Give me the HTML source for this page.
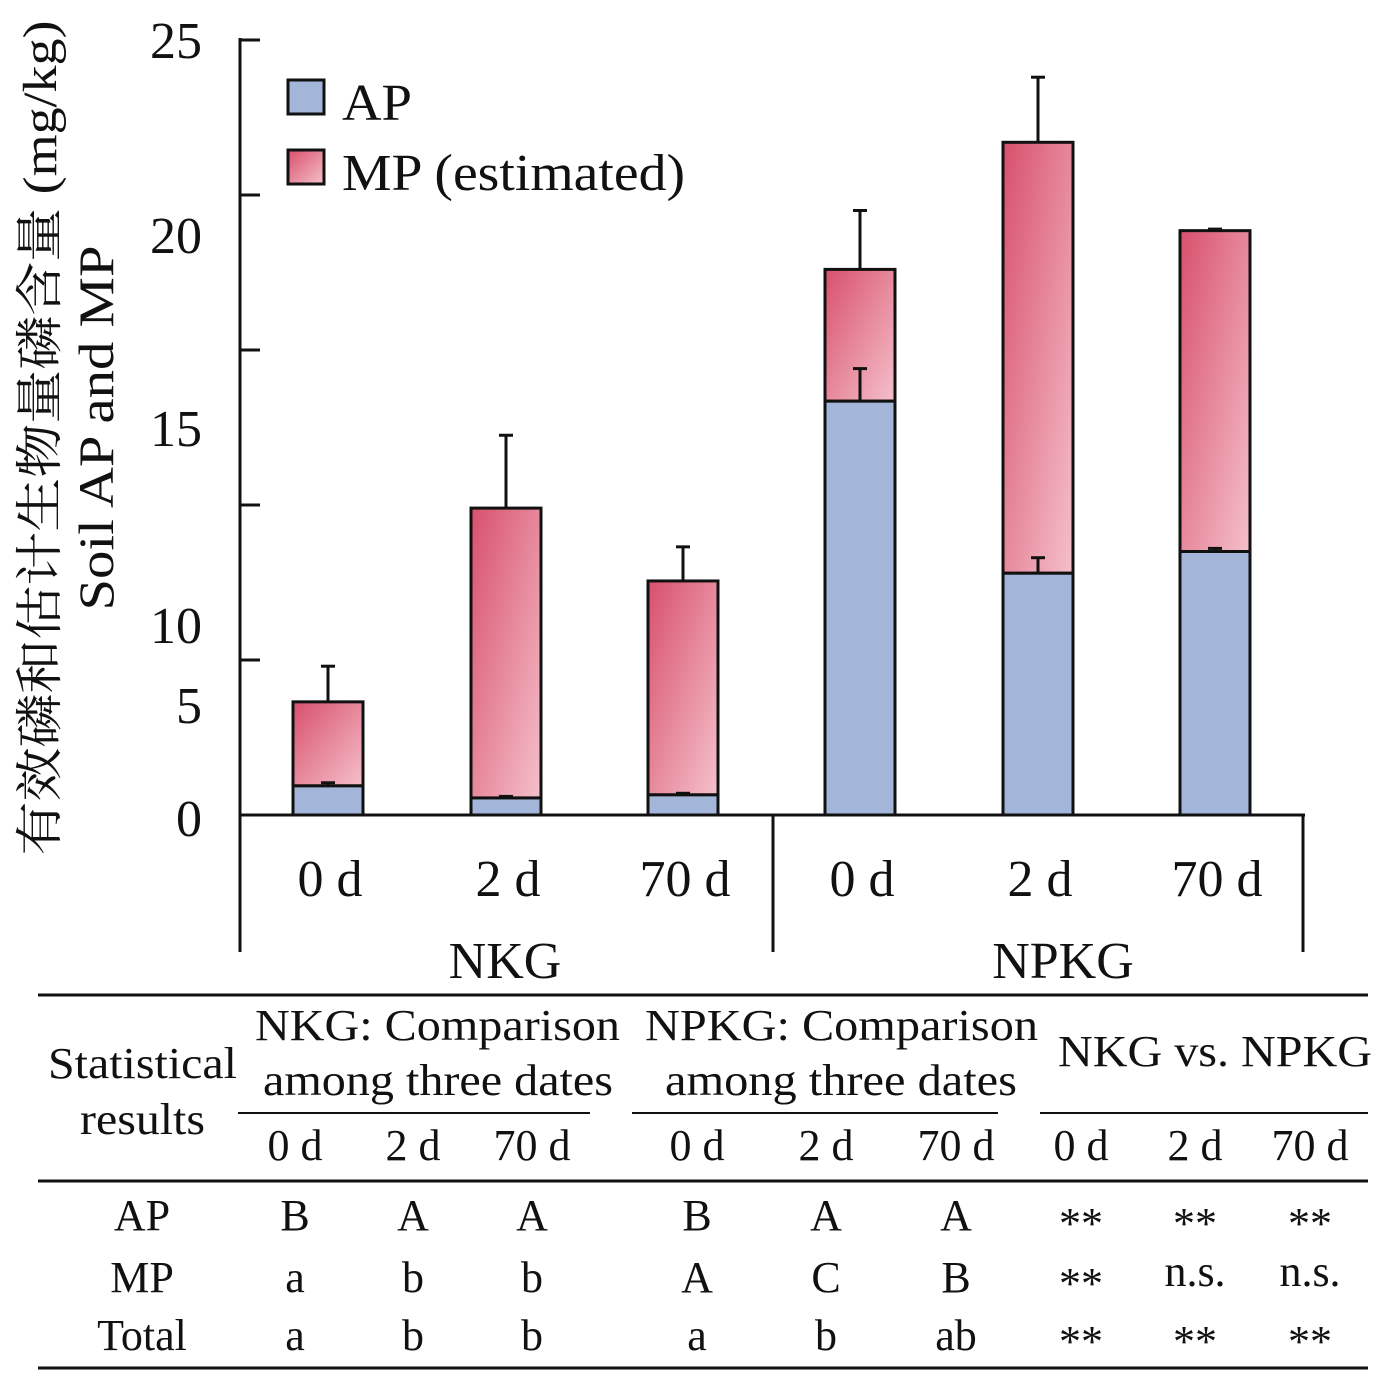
<!DOCTYPE html>
<html><head><meta charset="utf-8"><style>
body{margin:0;background:#fff;}
svg text{font-family:"Liberation Serif","Noto Serif CJK SC",serif;fill:#111;}
</style></head><body>
<svg id="chart" width="1378" height="1384" viewBox="0 0 1378 1384" xmlns="http://www.w3.org/2000/svg">
<defs>
<linearGradient id="mpg" x1="0" y1="0" x2="1" y2="1">
<stop offset="0" stop-color="#d8506c"/><stop offset="1" stop-color="#f5c0cb"/></linearGradient>
</defs>
<g id="axes"></g>
<g id="bars"></g>
<g id="labels"></g>
</svg>
<script>
const categories=["0 d","2 d","70 d","0 d","2 d","70 d"];
const groups=["NKG","NPKG"];
const apValues=[0.94,0.55,0.65,13.35,7.8,8.5];
const apErr=[0.1,0.05,0.05,1.05,0.5,0.1];
const totalValues=[3.65,9.9,7.55,17.6,21.7,18.85];
const totalErr=[1.15,2.35,1.1,1.9,2.1,0.05];
const tickLabels=["0","5","10","15","20","25"];
const NS="http://www.w3.org/2000/svg";
const svg=document.getElementById('chart');
function y(v){return 815-v*31;}
function x(i){return [328,506,683,860,1038,1215][i];}
function mk(tag,attrs,parent,text){const e=document.createElementNS(NS,tag);for(const k in attrs)e.setAttribute(k,attrs[k]);if(text!==undefined)e.textContent=text;(parent||svg).appendChild(e);return e;}
const ax=document.getElementById('axes'),bg=document.getElementById('bars'),lb=document.getElementById('labels');
let e;
e=mk('line',{x1:240,y1:38,x2:240,y2:952,stroke:'#111','stroke-width':3},ax);

e=mk('line',{x1:240,y1:815,x2:1305,y2:815,stroke:'#111','stroke-width':3},ax);

mk('line',{x1:773,y1:815,x2:773,y2:952,stroke:'#111','stroke-width':3},ax);
mk('line',{x1:1303,y1:815,x2:1303,y2:952,stroke:'#111','stroke-width':3},ax);
const labelY=[818,705,625,428,235,40];
for(let k=0;k<6;k++){
 mk('line',{x1:240,y1:y(k*5),x2:260,y2:y(k*5),stroke:'#111','stroke-width':3},ax);
 e=mk('text',{x:202,y:labelY[k]+18,'font-size':52,'text-anchor':'end'},lb,tickLabels[k]);
 
}
for(let i=0;i<6;i++){
 const cx=x(i),w=70;
 e=mk('rect',{x:cx-w/2,y:y(totalValues[i]),width:w,height:y(apValues[i])-y(totalValues[i]),fill:'url(#mpg)',stroke:'#111','stroke-width':3},bg);
 
 e=mk('rect',{x:cx-w/2,y:y(apValues[i]),width:w,height:815-y(apValues[i]),fill:'#a3b5d8',stroke:'#111','stroke-width':3},bg);
 
 const ta=totalValues[i]+totalErr[i],aa=apValues[i]+apErr[i];
 mk('line',{x1:cx,y1:y(totalValues[i]),x2:cx,y2:y(ta),stroke:'#111','stroke-width':3},bg);
 mk('line',{x1:cx-7,y1:y(ta),x2:cx+7,y2:y(ta),stroke:'#111','stroke-width':3},bg);
 mk('line',{x1:cx,y1:y(apValues[i]),x2:cx,y2:y(aa),stroke:'#111','stroke-width':3},bg);
 mk('line',{x1:cx-7,y1:y(aa),x2:cx+7,y2:y(aa),stroke:'#111','stroke-width':3},bg);
 e=mk('text',{x:cx+2,y:896,'font-size':52,'text-anchor':'middle'},lb,categories[i]);
 
}
e=mk('text',{x:505,y:978,'font-size':52,'text-anchor':'middle'},lb,groups[0]);

e=mk('text',{x:1063,y:978,'font-size':52,'text-anchor':'middle'},lb,groups[1]);

</script>
<svg style="position:absolute;left:0;top:0" width="1378" height="1384">
<g>
<text transform="translate(56,438) rotate(-90)" font-size="48" text-anchor="middle" textLength="835" lengthAdjust="spacingAndGlyphs">有效磷和估计生物量磷含量 (mg/kg)</text>
<text transform="translate(113,428) rotate(-90)" font-size="50" text-anchor="middle" textLength="365" lengthAdjust="spacingAndGlyphs">Soil AP and MP</text>
</g>
<g>
<rect x="288" y="80" width="36" height="34" fill="#a3b5d8" stroke="#111" stroke-width="3"/>
<text x="342" y="120" font-size="52" textLength="70" lengthAdjust="spacingAndGlyphs">AP</text>
<rect x="288" y="150" width="36" height="34" fill="url(#mpg)" stroke="#111" stroke-width="3"/>
<text x="342" y="190" font-size="52" textLength="343" lengthAdjust="spacingAndGlyphs">MP (estimated)</text>
</g>
<g font-size="44">
<line x1="38" y1="995" x2="1368" y2="995" stroke="#111" stroke-width="3"/>
<line x1="238" y1="1113" x2="590" y2="1113" stroke="#111" stroke-width="2"/>
<line x1="632" y1="1113" x2="998" y2="1113" stroke="#111" stroke-width="2"/>
<line x1="1040" y1="1113" x2="1368" y2="1113" stroke="#111" stroke-width="2"/>
<line x1="38" y1="1181" x2="1368" y2="1181" stroke="#111" stroke-width="3"/>
<line x1="38" y1="1368" x2="1368" y2="1368" stroke="#111" stroke-width="3"/>
<text x="48" y="1078" textLength="189" lengthAdjust="spacingAndGlyphs">Statistical</text>
<text x="80" y="1134" textLength="125" lengthAdjust="spacingAndGlyphs">results</text>
<text x="255" y="1040" textLength="365" lengthAdjust="spacingAndGlyphs">NKG: Comparison</text>
<text x="263" y="1095" textLength="350" lengthAdjust="spacingAndGlyphs">among three dates</text>
<text x="645" y="1040" textLength="393" lengthAdjust="spacingAndGlyphs">NPKG: Comparison</text>
<text x="665" y="1095" textLength="352" lengthAdjust="spacingAndGlyphs">among three dates</text>
<text x="1058" y="1066" textLength="314" lengthAdjust="spacingAndGlyphs">NKG vs. NPKG</text>
<g text-anchor="middle">
<text x="295" y="1160">0 d</text><text x="413" y="1160">2 d</text><text x="532" y="1160">70 d</text>
<text x="697" y="1160">0 d</text><text x="826" y="1160">2 d</text><text x="956" y="1160">70 d</text>
<text x="1081" y="1160">0 d</text><text x="1195" y="1160">2 d</text><text x="1310" y="1160">70 d</text>
<text x="142" y="1230">AP</text><text x="295" y="1230">B</text><text x="413" y="1230">A</text><text x="532" y="1230">A</text>
<text x="697" y="1230">B</text><text x="826" y="1230">A</text><text x="956" y="1230">A</text>
<text x="1081" y="1238">**</text><text x="1195" y="1238">**</text><text x="1310" y="1238">**</text>
<text x="142" y="1292">MP</text><text x="295" y="1292">a</text><text x="413" y="1292">b</text><text x="532" y="1292">b</text>
<text x="697" y="1292">A</text><text x="826" y="1292">C</text><text x="956" y="1292">B</text>
<text x="1081" y="1298">**</text><text x="1195" y="1286">n.s.</text><text x="1310" y="1286">n.s.</text>
<text x="142" y="1350">Total</text><text x="295" y="1350">a</text><text x="413" y="1350">b</text><text x="532" y="1350">b</text>
<text x="697" y="1350">a</text><text x="826" y="1350">b</text><text x="956" y="1350">ab</text>
<text x="1081" y="1356">**</text><text x="1195" y="1356">**</text><text x="1310" y="1356">**</text>
</g>
</g>
</svg>
</body></html>
